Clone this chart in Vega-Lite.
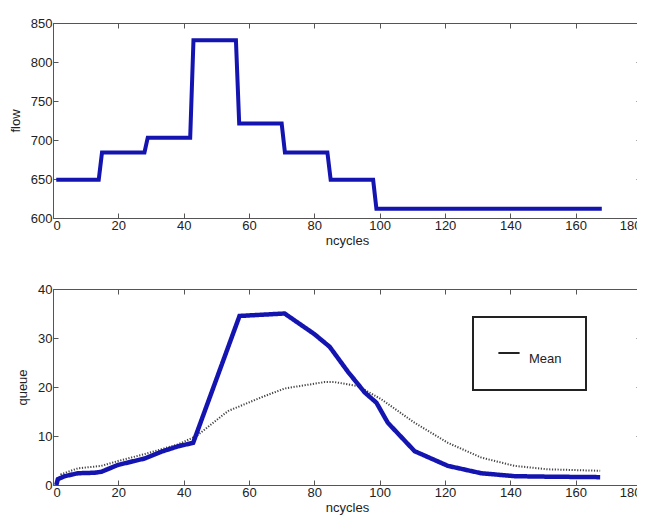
{
  "$schema": "https://vega.github.io/schema/vega-lite/v6.json",
  "background": "white",
  "padding": {"left": 8, "top": 16, "right": -5, "bottom": 0},
  "config": {
    "font": "Liberation Sans",
    "view": {"stroke": "#555", "strokeWidth": 1},
    "legend": {"strokeWidth": 2},
    "axis": {
      "grid": false, "domain": false, "tickColor": "#555", "tickSize": -5,
      "labelFont": "Liberation Sans", "labelFontSize": 13, "labelColor": "#222",
      "titleFont": "Liberation Sans", "titleFontSize": 13, "titleFontWeight": "normal", "titleColor": "#222"
    }
  },
  "datasets": {
    "flow": [
      {"c": 1, "v": 649}, {"c": 14, "v": 649}, {"c": 15, "v": 684}, {"c": 28, "v": 684},
      {"c": 29, "v": 703}, {"c": 42, "v": 703}, {"c": 43, "v": 828}, {"c": 56, "v": 828},
      {"c": 57, "v": 721}, {"c": 70, "v": 721}, {"c": 71, "v": 684}, {"c": 84, "v": 684},
      {"c": 85, "v": 649}, {"c": 98, "v": 649}, {"c": 99, "v": 612}, {"c": 168, "v": 612}
    ],
    "queue": [
      {"c": 1, "v": 0}, {"c": 1.5, "v": 1.2}, {"c": 3.6, "v": 1.8}, {"c": 7.6, "v": 2.4},
      {"c": 12.8, "v": 2.5}, {"c": 14.8, "v": 2.7}, {"c": 19.9, "v": 4.1}, {"c": 28, "v": 5.4},
      {"c": 33.2, "v": 6.8}, {"c": 38.3, "v": 7.9}, {"c": 42.9, "v": 8.6}, {"c": 57.1, "v": 34.5},
      {"c": 70.9, "v": 35}, {"c": 80, "v": 30.8}, {"c": 84.7, "v": 28.2}, {"c": 90.3, "v": 23.1},
      {"c": 95.4, "v": 18.9}, {"c": 99, "v": 16.8}, {"c": 102.5, "v": 12.7}, {"c": 110.7, "v": 6.9},
      {"c": 120.9, "v": 3.9}, {"c": 131.1, "v": 2.4}, {"c": 141.3, "v": 1.8}, {"c": 151.5, "v": 1.7},
      {"c": 167.5, "v": 1.6}
    ],
    "dotted": [
      {"c": 1, "v": 0}, {"c": 2.5, "v": 2.2}, {"c": 7.6, "v": 3.4}, {"c": 14.8, "v": 3.9},
      {"c": 19.9, "v": 4.9}, {"c": 28, "v": 6.3}, {"c": 38.3, "v": 8.3}, {"c": 43.9, "v": 10.0},
      {"c": 53.6, "v": 15.1}, {"c": 63.8, "v": 17.9}, {"c": 70.9, "v": 19.7}, {"c": 83.1, "v": 21.0},
      {"c": 86.2, "v": 21.0}, {"c": 93.3, "v": 20.2}, {"c": 100.5, "v": 17.5}, {"c": 110.7, "v": 12.7},
      {"c": 120.9, "v": 8.6}, {"c": 131.1, "v": 5.6}, {"c": 141.3, "v": 3.9}, {"c": 151.5, "v": 3.2},
      {"c": 167.5, "v": 2.9}
    ]
  },
  "vconcat": [
    {
      "width": 588, "height": 195,
      "data": {"name": "flow"},
      "layer": [
        {
          "mark": {"type": "line", "color": "#1414b0", "strokeWidth": 4},
          "encoding": {
            "x": {"field": "c", "type": "quantitative", "scale": {"domain": [0, 180], "nice": false},
                  "axis": {"title": "ncycles", "values": [0,20,40,60,80,100,120,140,160,180], "labelPadding": 6, "titlePadding": 2}},
            "y": {"field": "v", "type": "quantitative", "scale": {"domain": [600, 850], "nice": false, "zero": false},
                  "axis": {"title": "flow", "values": [600,650,700,750,800,850], "labelPadding": 6, "titlePadding": 8}}
          }
        },
        {
          "mark": {"type": "line", "opacity": 0},
          "encoding": {
            "x": {"field": "c", "type": "quantitative", "scale": {"domain": [0, 180], "nice": false},
                  "axis": {"orient": "top", "title": null, "labels": false, "values": [0,20,40,60,80,100,120,140,160,180]}},
            "y": {"field": "v", "type": "quantitative", "scale": {"domain": [600, 850], "nice": false, "zero": false},
                  "axis": {"orient": "right", "title": null, "labels": false, "values": [600,650,700,750,800,850]}}
          }
        }
      ],
      "resolve": {"axis": {"x": "independent", "y": "independent"}}
    },
    {
      "width": 588, "height": 196,
      "layer": [
        {
          "data": {"name": "dotted"},
          "mark": {"type": "line", "color": "#444", "strokeWidth": 2, "strokeDash": [1.2, 1.6]},
          "encoding": {
            "x": {"field": "c", "type": "quantitative", "scale": {"domain": [0, 180], "nice": false},
                  "axis": {"title": "ncycles", "values": [0,20,40,60,80,100,120,140,160,180], "labelPadding": 6, "titlePadding": 2}},
            "y": {"field": "v", "type": "quantitative", "scale": {"domain": [0, 40], "nice": false},
                  "axis": {"title": "queue", "values": [0,10,20,30,40], "labelPadding": 6, "titlePadding": 8}}
          }
        },
        {
          "data": {"name": "queue"},
          "transform": [{"calculate": "'Mean'", "as": "s"}],
          "mark": {"type": "line", "color": "#1414b0", "strokeWidth": 4.5},
          "encoding": {
            "x": {"field": "c", "type": "quantitative", "scale": {"domain": [0, 180], "nice": false},
                  "axis": {"orient": "top", "title": null, "labels": false, "values": [0,20,40,60,80,100,120,140,160,180]}},
            "y": {"field": "v", "type": "quantitative", "scale": {"domain": [0, 40], "nice": false},
                  "axis": {"orient": "right", "title": null, "labels": false, "values": [0,10,20,30,40]}},
            "strokeDash": {"field": "s", "type": "nominal", "scale": {"domain": ["Mean"], "range": [[1, 0]]},
              "legend": {"title": null, "orient": "none", "legendX": 420, "legendY": 294,
                "strokeColor": "#222", "fillColor": "white", "padding": 24,
                "symbolType": "stroke", "symbolStrokeColor": "#222", "symbolStrokeWidth": 2, "symbolSize": 450,
                "labelFont": "Liberation Sans", "labelFontSize": 13, "labelColor": "#222", "labelBaseline": "top", "labelOffset": 8}}
          }
        }
      ],
      "resolve": {"axis": {"x": "independent", "y": "independent"}}
    }
  ],
  "spacing": 34
}
